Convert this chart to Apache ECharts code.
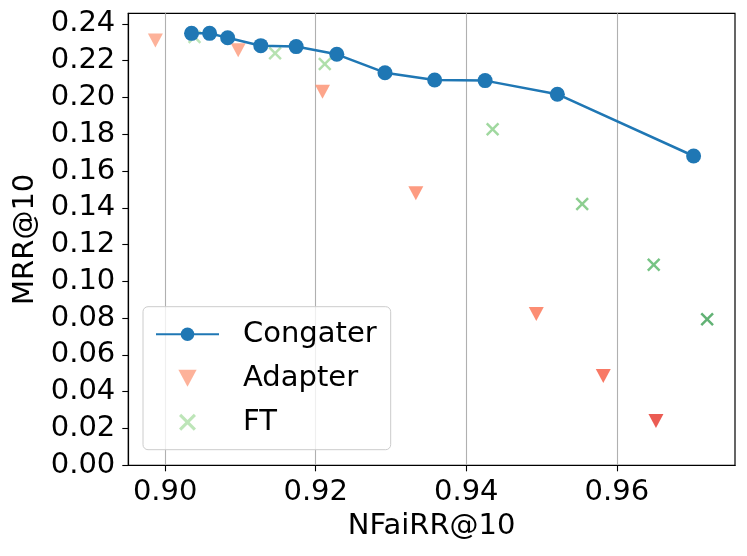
<!DOCTYPE html>
<html><head><meta charset="utf-8">
<script src="https://cdn.jsdelivr.net/npm/echarts@6/dist/echarts.min.js"></script>
<style>html,body{margin:0;padding:0;background:#fff}#c{width:747px;height:556px}</style>
</head><body><div id="c"></div>
<script>
// ---- data ----
const congaterX = [0.9035, 0.9059, 0.9083, 0.9127, 0.9174, 0.9228, 0.9292, 0.9358, 0.9425, 0.9521, 0.9702];
const congaterY = [0.2349, 0.2349, 0.2325, 0.2282, 0.2277, 0.2235, 0.2135, 0.2095, 0.2092, 0.2018, 0.1682];
const adapterX = [0.8987, 0.9097, 0.9209, 0.9333, 0.9493, 0.9582, 0.9652];
const adapterY = [0.2310, 0.2257, 0.2032, 0.1479, 0.0823, 0.0486, 0.0241];
const ftX = [0.9039, 0.9146, 0.9212, 0.9435, 0.9554, 0.9649, 0.9720];
const ftY = [0.2329, 0.2241, 0.2182, 0.1827, 0.1421, 0.1091, 0.0794];
const xTicks = [0.90, 0.92, 0.94, 0.96];
const yTicks = [0.00, 0.02, 0.04, 0.06, 0.08, 0.10, 0.12, 0.14, 0.16, 0.18, 0.20, 0.22, 0.24];
const adapterColors = ['#fc9f81', '#fc9879', '#fc8e6e', '#fc8262', '#fb7050', '#f6583e', '#e63328'];
const ftColors = ['#addea6', '#a5db9f', '#9bd795', '#88ce87', '#70c274', '#55b567', '#3b9f53'];

const FONT = 'DejaVu Sans';
const FS = 29;
const xPath = 'path://M0,1.3 L1.3,0 L5,3.7 L8.7,0 L10,1.3 L6.3,5 L10,8.7 L8.7,10 L5,6.3 L1.3,10 L0,8.7 L3.7,5 Z';
const triPath = 'path://M0,0 L15,0 L7.5,14 Z';

const chart = echarts.init(document.getElementById('c'), null, {renderer: 'canvas'});
chart.setOption({
  animation: false,
  backgroundColor: '#fff',
  textStyle: {fontFamily: FONT, color: '#000'},
  grid: {left: 128.3, right: 12, top: 13.3, bottom: 90.7, show: true, borderColor: '#000', borderWidth: 1.2, backgroundColor: 'transparent'},
  xAxis: {
    type: 'value', min: 0.8951, max: 0.9757,
    name: 'NFaiRR@10', nameLocation: 'middle', nameGap: 47,
    nameTextStyle: {fontFamily: FONT, fontSize: FS, color: '#000'},
    axisLine: {show: true, onZero: false, lineStyle: {color: '#000', width: 1.2}},
    axisTick: {show: true, length: 6, customValues: xTicks, lineStyle: {color: '#000', width: 1.1}},
    axisLabel: {customValues: xTicks, margin: 13, fontFamily: FONT, fontSize: FS, color: '#000', formatter: v => v.toFixed(2)},
    splitLine: {show: true, lineStyle: {color: '#b0b0b0', width: 1.1}}
  },
  yAxis: {
    type: 'value', min: 0, max: 0.2458,
    name: 'MRR@10', nameLocation: 'middle', nameGap: 88,
    nameTextStyle: {fontFamily: FONT, fontSize: FS, color: '#000'},
    axisLine: {show: true, onZero: false, lineStyle: {color: '#000', width: 1.2}},
    axisTick: {show: true, length: 6, customValues: yTicks, lineStyle: {color: '#000', width: 1.1}},
    axisLabel: {customValues: yTicks, margin: 13, fontFamily: FONT, fontSize: FS, color: '#000', formatter: v => v.toFixed(2)},
    splitLine: {show: false}
  },
  legend: {
    orient: 'vertical', left: 143, top: 306.7,
    data: ['Congater', 'Adapter', 'FT'],
    padding: [13, 14, 13, 12],
    itemWidth: 63, itemHeight: 17, itemGap: 15,
    backgroundColor: 'rgba(255,255,255,0.8)', borderColor: '#cccccc', borderWidth: 1, borderRadius: 5,
    textStyle: {fontFamily: FONT, fontSize: FS, color: '#000', padding: [0, 0, 0, 19]}
  },
  series: [
    {
      name: 'Adapter', type: 'scatter', z: 2,
      symbol: triPath, symbolSize: [15, 14],
      itemStyle: {color: adapterColors[0]},
      data: adapterX.map((x, i) => ({value: [x, adapterY[i]], itemStyle: {color: adapterColors[i]}}))
    },
    {
      name: 'FT', type: 'scatter', z: 3,
      symbol: xPath, symbolSize: 13.5,
      itemStyle: {color: ftColors[0]},
      data: ftX.map((x, i) => ({value: [x, ftY[i]], itemStyle: {color: ftColors[i]}}))
    },
    {
      name: 'Congater', type: 'line', z: 4,
      symbol: 'circle', symbolSize: 15, showAllSymbol: true,
      itemStyle: {color: '#1f77b4'},
      lineStyle: {color: '#1f77b4', width: 2.5},
      data: congaterX.map((x, i) => [x, congaterY[i]])
    }
  ]
});
</script></body></html>
